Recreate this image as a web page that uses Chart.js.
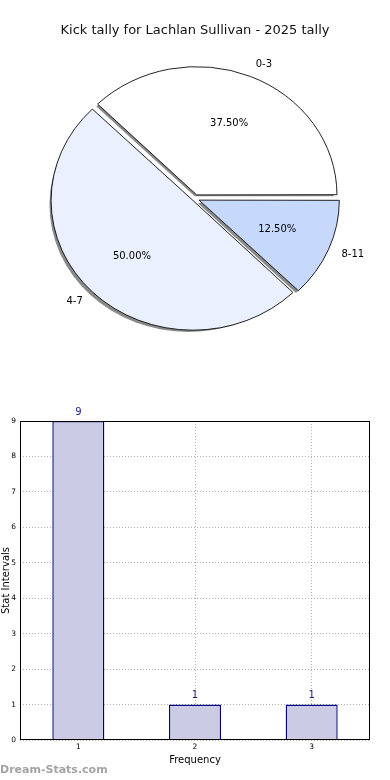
<!DOCTYPE html>
<html>
<head>
<meta charset="utf-8">
<script src="https://cdn.jsdelivr.net/npm/chart.js@4.4.1/dist/chart.umd.min.js"></script>
<style>
    body { margin: 0; background: #fff; font-family: "DejaVu Sans", sans-serif; }
    .wrap { position: relative; width: 390px; height: 780px; overflow: hidden; }
    #pieWrap { position: absolute; left: 0; top: 0; width: 390px; height: 390px; }
    #barWrap { position: absolute; left: 0; top: 400px; width: 390px; height: 380px; }
    .brand { position: absolute; left: 0; top: 763px; font: bold 11px "DejaVu Sans", sans-serif; color: #a3a3a3; }
</style>
</head>
<body>
<div class="wrap">
    <div id="pieWrap"><canvas id="pieChart" width="390" height="390"></canvas></div>
    <div id="barWrap"><canvas id="barChart" width="390" height="380"></canvas></div>
    <div class="brand">Dream-Stats.com</div>
</div>
<script>
// Pie data
const pieTitle = 'Kick tally for Lachlan Sullivan - 2025 tally';
const pieLabels = ['0-3', '4-7', '8-11'];
const pieValues = [3, 4, 1];
const pieColors = ['#ffffff', '#eaf0fd', '#c6d9fd'];

// Bar data
const barLabels = ['1', '2', '3'];
const barValues = [9, 1, 1];
const barXTitle = 'Frequency';
const barYTitle = 'Stat Intervals';

const FONT = '"DejaVu Sans", sans-serif';
const squash = 128 / 140; // pie is drawn as an ellipse

// matplotlib draws counter-clockwise from 3 o'clock, Chart.js goes clockwise
const pieOrder = pieLabels.map((_, i) => i).reverse();

const pieTotal = pieValues.reduce((a, b) => a + b, 0);

// where the exploded slice apex ends up (same maths as ArcElement.draw)
function sliceCenter(arc) {
    const mid = (arc.startAngle + arc.endAngle) / 2;
    const circ = arc.endAngle - arc.startAngle;
    const off = (arc.options.offset || 0) / 4;
    const fix = 1 - Math.sin(Math.min(Math.PI, circ));
    const shift = off * (1 + fix);
    return { mid, dx: Math.cos(mid) * shift, dy: Math.sin(mid) * shift };
}

const ellipsePlugin = {
    id: 'ellipse',
    beforeDatasetsDraw(chart) {
        const ctx = chart.ctx;
        const meta = chart.getDatasetMeta(0);
        const arc0 = meta.data[0];
        ctx.save();
        ctx.translate(0, arc0.y);
        ctx.scale(1, squash);
        ctx.translate(0, -arc0.y);

        // drop shadow under all slices
        ctx.save();
        ctx.translate(-2.5, 2.5 / squash);
        ctx.fillStyle = '#8a8a8a';
        meta.data.forEach(arc => {
            const c = sliceCenter(arc);
            const x = arc.x + c.dx;
            const y = arc.y + c.dy;
            ctx.beginPath();
            ctx.moveTo(x, y);
            ctx.arc(x, y, arc.outerRadius, arc.startAngle, arc.endAngle);
            ctx.closePath();
            ctx.fill();
        });
        ctx.restore();
    },
    afterDatasetsDraw(chart) {
        const ctx = chart.ctx;
        ctx.restore();

        // slice labels and percentages
        const meta = chart.getDatasetMeta(0);
        ctx.save();
        ctx.font = '10px ' + FONT;
        ctx.fillStyle = '#000';
        ctx.textBaseline = 'middle';
        meta.data.forEach((arc, i) => {
            const idx = pieOrder[i];
            const c = sliceCenter(arc);
            const mid = c.mid;
            const cx = arc.x + c.dx;
            const cy = arc.y + c.dy * squash;
            const r = arc.outerRadius;

            const lx = cx + Math.cos(mid) * r * 1.1;
            const ly = cy + Math.sin(mid) * r * 1.1 * squash;
            ctx.textAlign = Math.cos(mid) >= 0 ? 'left' : 'right';
            ctx.fillText(pieLabels[idx], lx, ly);

            const px = cx + Math.cos(mid) * r * 0.6;
            const py = cy + Math.sin(mid) * r * 0.6 * squash;
            ctx.textAlign = 'center';
            const pct = (pieValues[idx] / pieTotal * 100).toFixed(2) + '%';
            ctx.fillText(pct, px, py);
        });
        ctx.restore();
    }
};

new Chart(document.getElementById('pieChart'), {
    type: 'pie',
    data: {
        labels: pieOrder.map(i => pieLabels[i]),
        datasets: [{
            data: pieOrder.map(i => pieValues[i]),
            backgroundColor: pieOrder.map(i => pieColors[i]),
            borderColor: '#000',
            borderWidth: 0.9,
            offset: pieOrder.map(i => (pieValues[i] / pieTotal === 0.5 ? 11.5 : 17.5))
        }]
    },
    options: {
        responsive: false,
        animation: false,
        events: [],
        rotation: 90,
        radius: 139,
        layout: { padding: { bottom: 41.4 } },
        plugins: {
            legend: { display: false },
            tooltip: { enabled: false },
            title: {
                display: true,
                text: pieTitle,
                color: '#111',
                font: { family: FONT, size: 13, weight: 'normal' },
                padding: { top: 23, bottom: 10 }
            }
        }
    },
    plugins: [ellipsePlugin]
});

// Box around the plot and value labels on bars
const barExtras = {
    id: 'barExtras',
    afterDatasetsDraw(chart) {
        const ctx = chart.ctx;
        const meta = chart.getDatasetMeta(0);
        ctx.save();
        ctx.font = '10px ' + FONT;
        ctx.fillStyle = '#1a1a8c';
        ctx.textAlign = 'center';
        ctx.textBaseline = 'middle';
        meta.data.forEach((bar, i) => {
            ctx.fillText(String(barValues[i]), bar.x, bar.y - 9);
        });
        ctx.restore();
    },
    afterDraw(chart) {
        const { left, top, right, bottom } = chart.chartArea;
        const ctx = chart.ctx;
        ctx.save();
        ctx.strokeStyle = '#000';
        ctx.lineWidth = 1;
        ctx.strokeRect(left + 0.5, top + 0.5, right - left - 1, bottom - top - 1);
        ctx.restore();
    }
};

new Chart(document.getElementById('barChart'), {
    type: 'bar',
    data: {
        labels: barLabels,
        datasets: [{
            data: barValues,
            backgroundColor: '#cbcbe3',
            borderColor: '#000080',
            borderWidth: 1.4,
            barPercentage: 0.446,
            categoryPercentage: 1
        }]
    },
    options: {
        responsive: false,
        animation: false,
        events: [],
        layout: { padding: { top: 21, right: 20, bottom: 10, left: 0 } },
        plugins: {
            legend: { display: false },
            tooltip: { enabled: false }
        },
        scales: {
            x: {
                z: 1,
                grid: {
                    offset: false,
                    color: '#b0b0b0',
                    drawTicks: false
                },
                border: { display: false, dash: [1, 2] },
                ticks: { color: '#000', font: { family: FONT, size: 7.5 }, padding: 3 },
                title: {
                    display: true,
                    text: barXTitle,
                    color: '#000',
                    font: { family: FONT, size: 10 },
                    padding: { top: 0, bottom: 4 }
                },
                afterFit(scale) { scale.height = 30; }
            },
            y: {
                z: 1,
                min: 0,
                max: 9,
                grid: { color: '#b0b0b0', drawTicks: false },
                border: { display: false, dash: [1, 2] },
                ticks: { stepSize: 1, color: '#000', font: { family: FONT, size: 7.5 }, padding: 4 },
                title: {
                    display: true,
                    text: barYTitle,
                    color: '#000',
                    font: { family: FONT, size: 10 },
                    padding: { top: 0, bottom: 0 }
                },
                afterFit(scale) { scale.width = 20; }
            }
        }
    },
    plugins: [barExtras]
});
</script>
</body>
</html>
